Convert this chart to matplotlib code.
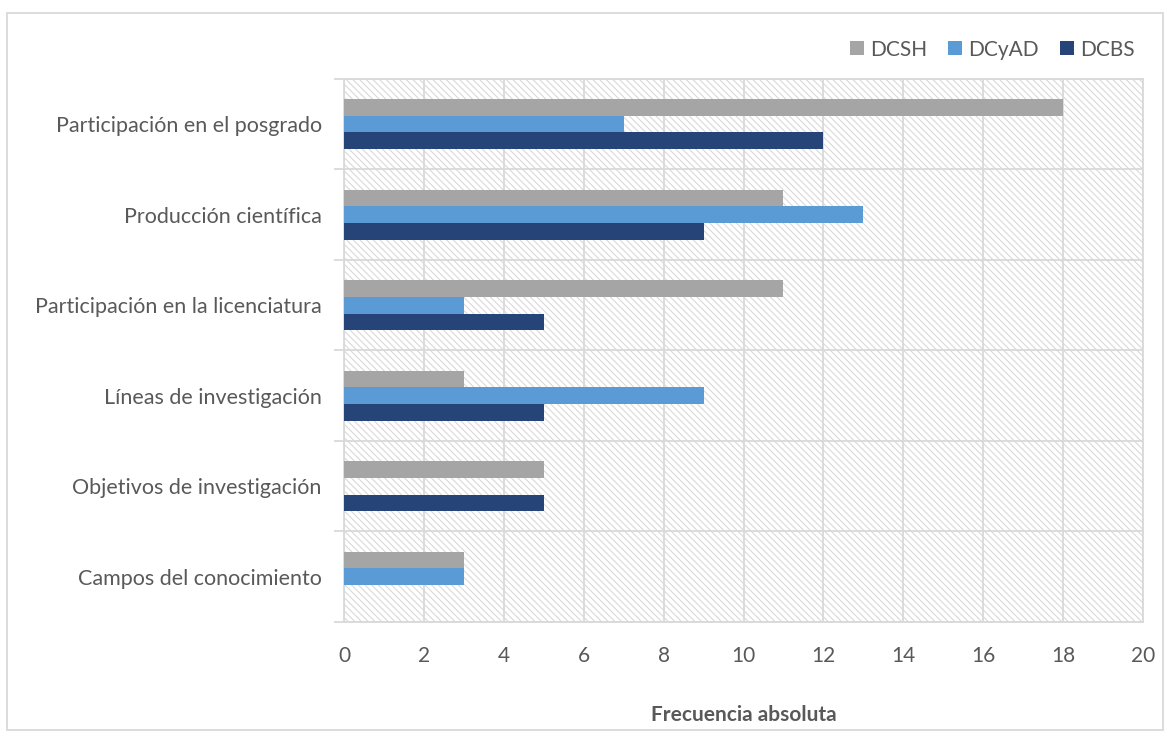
import numpy as np
import matplotlib
matplotlib.use("Agg")
import matplotlib.pyplot as plt
from matplotlib.patches import Rectangle

plt.rcParams['font.family'] = ['Lato', 'DejaVu Sans']
plt.rcParams['hatch.color'] = '#d4d4d4'
plt.rcParams['hatch.linewidth'] = 0.8

# data (bottom category first)
categories = ["Campos del conocimiento", "Objetivos de investigación",
              "Líneas de investigación", "Participación en la licenciatura",
              "Producción científica", "Participación en el posgrado"]
dcsh = [3, 5, 3, 11, 11, 18]
dcyad = [3, 0, 9, 3, 13, 7]
dcbs = [0, 5, 5, 5, 9, 12]
series_names = ["DCSH", "DCyAD", "DCBS"]
series_colors = ["#a5a5a5", "#5b9bd5", "#264478"]
x_ticks = list(range(0, 21, 2))

text_col = "#595959"
grid_col = "#d9d9d9"

fig = plt.figure(figsize=(11.7, 7.37), dpi=100)
ax = fig.add_axes([0.294, 0.156, 0.683, 0.737])

# hatched plot area background
bg = Rectangle((0, 0), 1, 1, transform=ax.transAxes, facecolor='white',
               edgecolor=grid_col, hatch='\\' * 5, linewidth=0, zorder=0)
ax.add_patch(bg)

y = np.arange(len(categories))
h = 0.185
offsets = [h, 0, -h]
for vals, name, col, off in zip([dcsh, dcyad, dcbs], series_names, series_colors, offsets):
    ax.barh(y + off, vals, height=h, color=col, label=name, zorder=3)

ax.set_xlim(0, 20)
ax.set_ylim(-0.5, len(categories) - 0.5)
ax.set_xticks(x_ticks)
ax.set_yticks(y)
ax.set_yticklabels(categories)
ax.set_yticks(np.arange(-0.5, len(categories)), minor=True)

ax.tick_params(axis='x', length=0, pad=17, labelsize=15, labelcolor=text_col)
ax.tick_params(axis='y', which='major', length=0, pad=16, labelsize=15.5, labelcolor=text_col)
ax.tick_params(axis='y', which='minor', length=7, width=1.3, color=grid_col)

ax.grid(axis='x', color=grid_col, linewidth=1.3, zorder=1)
ax.grid(axis='y', which='minor', color=grid_col, linewidth=1.3, zorder=1)
ax.set_axisbelow(True)
for s in ax.spines.values():
    s.set_color(grid_col)
    s.set_linewidth(1.3)

ax.set_xlabel("Frecuencia absoluta", fontsize=15, fontweight='bold', color=text_col, labelpad=28)

ax.legend(loc='lower right', bbox_to_anchor=(1.0, 1.02), ncol=3, frameon=False,
          fontsize=15, labelcolor=text_col, handlelength=0.67, handleheight=0.67,
          handletextpad=0.3, columnspacing=1.0, borderaxespad=0.0)

# light outer border of the chart
fig.patches.append(Rectangle((0.006, 0.01), 0.988, 0.972, transform=fig.transFigure,
                             fill=False, edgecolor=grid_col, linewidth=1.3))

plt.savefig('out.png', dpi=100)
